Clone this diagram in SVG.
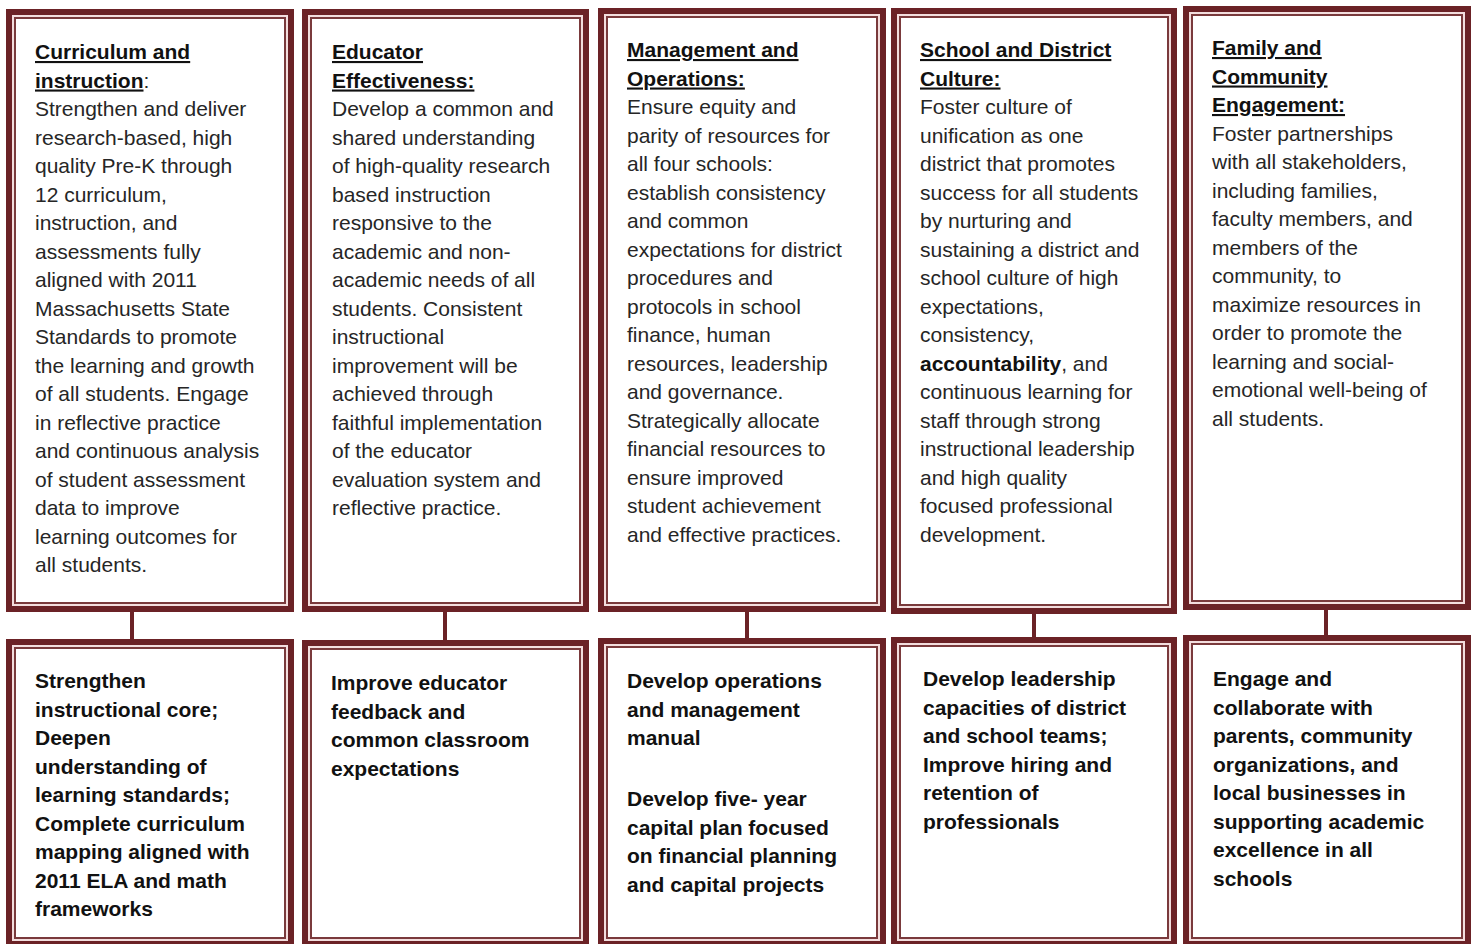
<svg xmlns="http://www.w3.org/2000/svg" width="1473" height="944" viewBox="0 0 1473 944">
<style>
.band{fill:#fff;stroke:#6b2226;stroke-width:6}
.gap{fill:none;stroke:#f3dede;stroke-width:2}
.thin{fill:none;stroke:#7a3a3c;stroke-width:2}
.t{font-family:"Liberation Sans",Arial,sans-serif;font-size:21px;fill:#262626}
.b{font-family:"Liberation Sans",Arial,sans-serif;font-size:21px;font-weight:bold;fill:#111}
.u{text-decoration:underline}
.conn{stroke:#6b2226;stroke-width:4}
</style>
<rect width="1473" height="944" fill="#fff"/>
<g id="connectors">
<line class="conn" x1="132" y1="610" x2="132" y2="641"/>
<line class="conn" x1="445" y1="610" x2="445" y2="641"/>
<line class="conn" x1="747" y1="610" x2="747" y2="640"/>
<line class="conn" x1="1034" y1="612" x2="1034" y2="639"/>
<line class="conn" x1="1326" y1="608" x2="1326" y2="638"/>
</g>

<g id="top1">
<rect class="band" x="9" y="12" width="282" height="597"/>
<rect class="gap" x="13" y="16" width="274" height="589"/>
<rect class="thin" x="15" y="18" width="270" height="585"/>
<text class="b u" x="35" y="59">Curriculum and</text>
<text class="b" x="35" y="87.5"><tspan class="u">instruction</tspan><tspan class="t" font-weight="normal">:</tspan></text>
<text class="t" x="35" y="116">Strengthen and deliver</text>
<text class="t" x="35" y="144.5">research-based, high</text>
<text class="t" x="35" y="173">quality Pre-K through</text>
<text class="t" x="35" y="201.5">12 curriculum,</text>
<text class="t" x="35" y="230">instruction, and</text>
<text class="t" x="35" y="258.5">assessments fully</text>
<text class="t" x="35" y="287">aligned with 2011</text>
<text class="t" x="35" y="315.5">Massachusetts State</text>
<text class="t" x="35" y="344">Standards to promote</text>
<text class="t" x="35" y="372.5">the learning and growth</text>
<text class="t" x="35" y="401">of all students. Engage</text>
<text class="t" x="35" y="429.5">in reflective practice</text>
<text class="t" x="35" y="458">and continuous analysis</text>
<text class="t" x="35" y="486.5">of student assessment</text>
<text class="t" x="35" y="515">data to improve</text>
<text class="t" x="35" y="543.5">learning outcomes for</text>
<text class="t" x="35" y="572">all students.</text>
</g>

<g id="top2">
<rect class="band" x="305" y="12" width="281" height="597"/>
<rect class="gap" x="309" y="16" width="273" height="589"/>
<rect class="thin" x="311" y="18" width="269" height="585"/>
<text class="b u" x="332" y="59">Educator</text>
<text class="b u" x="332" y="87.5">Effectiveness:</text>
<text class="t" x="332" y="116">Develop a common and</text>
<text class="t" x="332" y="144.5">shared understanding</text>
<text class="t" x="332" y="173">of high-quality research</text>
<text class="t" x="332" y="201.5">based instruction</text>
<text class="t" x="332" y="230">responsive to the</text>
<text class="t" x="332" y="258.5">academic and non-</text>
<text class="t" x="332" y="287">academic needs of all</text>
<text class="t" x="332" y="315.5">students. Consistent</text>
<text class="t" x="332" y="344">instructional</text>
<text class="t" x="332" y="372.5">improvement  will be</text>
<text class="t" x="332" y="401">achieved through</text>
<text class="t" x="332" y="429.5">faithful implementation</text>
<text class="t" x="332" y="458">of the educator</text>
<text class="t" x="332" y="486.5">evaluation system and</text>
<text class="t" x="332" y="515">reflective practice.</text>
</g>

<g id="top3">
<rect class="band" x="601" y="11" width="282" height="598"/>
<rect class="gap" x="605" y="15" width="274" height="590"/>
<rect class="thin" x="607" y="17" width="270" height="586"/>
<text class="b u" x="627" y="57">Management and</text>
<text class="b u" x="627" y="85.5">Operations:</text>
<text class="t" x="627" y="114">Ensure equity and</text>
<text class="t" x="627" y="142.5">parity of resources for</text>
<text class="t" x="627" y="171">all four schools:</text>
<text class="t" x="627" y="199.5">establish consistency</text>
<text class="t" x="627" y="228">and common</text>
<text class="t" x="627" y="256.5">expectations for district</text>
<text class="t" x="627" y="285">procedures and</text>
<text class="t" x="627" y="313.5">protocols in school</text>
<text class="t" x="627" y="342">finance, human</text>
<text class="t" x="627" y="370.5">resources, leadership</text>
<text class="t" x="627" y="399">and governance.</text>
<text class="t" x="627" y="427.5">Strategically allocate</text>
<text class="t" x="627" y="456">financial resources to</text>
<text class="t" x="627" y="484.5">ensure improved</text>
<text class="t" x="627" y="513">student achievement</text>
<text class="t" x="627" y="541.5">and effective practices.</text>
</g>

<g id="top4">
<rect class="band" x="894" y="11" width="280" height="600"/>
<rect class="gap" x="898" y="15" width="272" height="592"/>
<rect class="thin" x="900" y="17" width="268" height="588"/>
<text class="b u" x="920" y="57">School and District</text>
<text class="b u" x="920" y="85.5">Culture:</text>
<text class="t" x="920" y="114">Foster culture of</text>
<text class="t" x="920" y="142.5">unification as one</text>
<text class="t" x="920" y="171">district that promotes</text>
<text class="t" x="920" y="199.5">success for all students</text>
<text class="t" x="920" y="228">by nurturing and</text>
<text class="t" x="920" y="256.5">sustaining a district and</text>
<text class="t" x="920" y="285">school culture of high</text>
<text class="t" x="920" y="313.5">expectations,</text>
<text class="t" x="920" y="342">consistency,</text>
<text class="t" x="920" y="370.5"><tspan class="b">accountability</tspan>,  and</text>
<text class="t" x="920" y="399">continuous learning for</text>
<text class="t" x="920" y="427.5">staff through strong</text>
<text class="t" x="920" y="456">instructional leadership</text>
<text class="t" x="920" y="484.5">and high quality</text>
<text class="t" x="920" y="513">focused professional</text>
<text class="t" x="920" y="541.5">development.</text>
</g>

<g id="top5">
<rect class="band" x="1186" y="9" width="282" height="598"/>
<rect class="gap" x="1190" y="13" width="274" height="590"/>
<rect class="thin" x="1192" y="15" width="270" height="586"/>
<text class="b u" x="1212" y="55">Family and</text>
<text class="b u" x="1212" y="83.5">Community</text>
<text class="b u" x="1212" y="112">Engagement:</text>
<text class="t" x="1212" y="140.5">Foster partnerships</text>
<text class="t" x="1212" y="169">with all stakeholders,</text>
<text class="t" x="1212" y="197.5">including families,</text>
<text class="t" x="1212" y="226">faculty members, and</text>
<text class="t" x="1212" y="254.5">members  of the</text>
<text class="t" x="1212" y="283">community, to</text>
<text class="t" x="1212" y="311.5">maximize resources in</text>
<text class="t" x="1212" y="340">order to promote the</text>
<text class="t" x="1212" y="368.5">learning and social-</text>
<text class="t" x="1212" y="397">emotional well-being of</text>
<text class="t" x="1212" y="425.5">all students.</text>
</g>

<g id="bottom1">
<rect class="band" x="9" y="642" width="282" height="302"/>
<rect class="gap" x="13" y="646" width="274" height="294"/>
<rect class="thin" x="15" y="648" width="270" height="290"/>
<text class="b" x="35" y="688">Strengthen</text>
<text class="b" x="35" y="716.5">instructional core;</text>
<text class="b" x="35" y="745">Deepen</text>
<text class="b" x="35" y="773.5">understanding of</text>
<text class="b" x="35" y="802">learning standards;</text>
<text class="b" x="35" y="830.5">Complete curriculum</text>
<text class="b" x="35" y="859">mapping aligned with</text>
<text class="b" x="35" y="887.5">2011 ELA and math</text>
<text class="b" x="35" y="916">frameworks</text>
</g>

<g id="bottom2">
<rect class="band" x="305" y="643" width="281" height="301"/>
<rect class="gap" x="309" y="647" width="273" height="293"/>
<rect class="thin" x="311" y="649" width="269" height="289"/>
<text class="b" x="331" y="690">Improve educator</text>
<text class="b" x="331" y="718.5">feedback and</text>
<text class="b" x="331" y="747">common classroom</text>
<text class="b" x="331" y="775.5">expectations</text>
</g>

<g id="bottom3">
<rect class="band" x="601" y="641" width="282" height="303"/>
<rect class="gap" x="605" y="645" width="274" height="295"/>
<rect class="thin" x="607" y="647" width="270" height="291"/>
<text class="b" x="627" y="688">Develop operations</text>
<text class="b" x="627" y="716.5">and management</text>
<text class="b" x="627" y="745">manual</text>
<text class="b" x="627" y="806">Develop five- year</text>
<text class="b" x="627" y="834.5">capital plan focused</text>
<text class="b" x="627" y="863">on financial planning</text>
<text class="b" x="627" y="891.5">and capital projects</text>
</g>

<g id="bottom4">
<rect class="band" x="894" y="640" width="280" height="304"/>
<rect class="gap" x="898" y="644" width="272" height="296"/>
<rect class="thin" x="900" y="646" width="268" height="292"/>
<text class="b" x="923" y="686">Develop leadership</text>
<text class="b" x="923" y="714.5">capacities of district</text>
<text class="b" x="923" y="743">and school teams;</text>
<text class="b" x="923" y="771.5">Improve hiring and</text>
<text class="b" x="923" y="800">retention of</text>
<text class="b" x="923" y="828.5">professionals</text>
</g>

<g id="bottom5">
<rect class="band" x="1186" y="638" width="282" height="306"/>
<rect class="gap" x="1190" y="642" width="274" height="298"/>
<rect class="thin" x="1192" y="644" width="270" height="294"/>
<text class="b" x="1213" y="686">Engage and</text>
<text class="b" x="1213" y="714.5">collaborate with</text>
<text class="b" x="1213" y="743">parents, community</text>
<text class="b" x="1213" y="771.5">organizations, and</text>
<text class="b" x="1213" y="800">local businesses in</text>
<text class="b" x="1213" y="828.5">supporting academic</text>
<text class="b" x="1213" y="857">excellence in all</text>
<text class="b" x="1213" y="885.5">schools</text>
</g>
</svg>
